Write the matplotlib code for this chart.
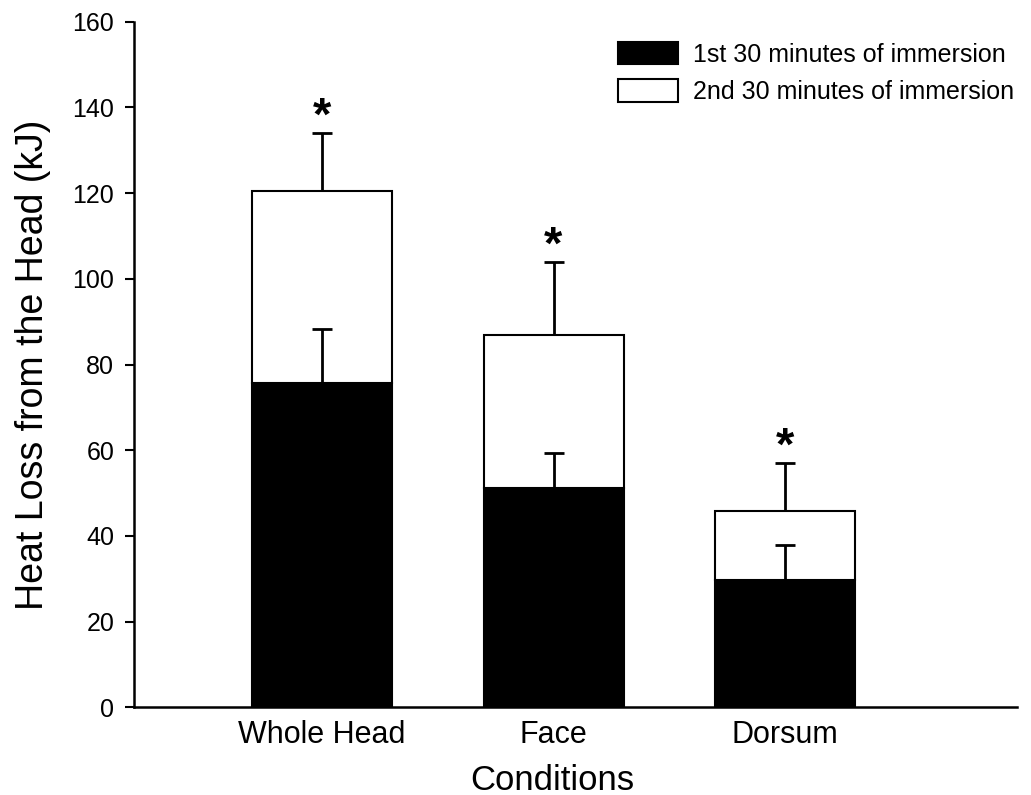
import matplotlib
matplotlib.use("Agg")
import matplotlib.pyplot as plt
import numpy as np

plt.rcParams['font.family'] = ['Liberation Sans', 'DejaVu Sans']

# data
conditions = ["Whole Head", "Face", "Dorsum"]
first_30 = [75.6, 51.1, 29.6]        # 1st 30 min (black part)
first_err = [12.8, 8.2, 8.3]
total = [120.5, 86.9, 45.9]           # cumulative after 2nd 30 min
total_err = [13.5, 17.1, 11.2]
second_30 = [t - f for t, f in zip(total, first_30)]

x = np.arange(len(conditions))
w = 0.605

fig = plt.figure(figsize=(10.31, 7.95), dpi=100)
ax = fig.add_axes([0.1303, 0.1103, 0.8561, 0.8624])

ax.bar(x, first_30, w, color="black", edgecolor="black", linewidth=1.5,
       label="1st 30 minutes of immersion", zorder=2)
ax.bar(x, second_30, w, bottom=first_30, color="white", edgecolor="black",
       linewidth=1.5, label="2nd 30 minutes of immersion", zorder=2)

# upward-only error bars (hide the lower caps)
for base, err in [(first_30, first_err), (total, total_err)]:
    eb = ax.errorbar(x, base, yerr=[np.zeros(3), err], fmt="none",
                     ecolor="black", elinewidth=2, capsize=7.5, capthick=2,
                     zorder=3)
    eb[1][0].set_visible(False)

# significance stars
for xi, t, e in zip(x, total, total_err):
    ax.text(xi, t + e + 3.5, "*", ha="center", va="center", fontsize=34,
            fontweight="bold")

ax.set_xlim(-0.811, 3.002)
ax.set_ylim(0, 160)
ax.set_yticks(range(0, 161, 20))
ax.set_xticks(x)
ax.set_xticklabels(conditions, fontsize=22)
ax.tick_params(axis="y", labelsize=18, length=6.5, width=1.5, pad=8)
ax.tick_params(axis="x", length=0, pad=9)

for s in ["top", "right"]:
    ax.spines[s].set_visible(False)
ax.spines["left"].set_linewidth(1.8)
ax.spines["bottom"].set_linewidth(1.8)

ax.set_ylabel("Heat Loss from the Head (kJ)", fontsize=27, labelpad=15)
ax.set_xlabel("Conditions", fontsize=25, labelpad=10)
ax.xaxis.label.set_x(0.474)

leg = ax.legend(loc="upper left", bbox_to_anchor=(618 / 1031, 1 - 42 / 795),
                bbox_transform=fig.transFigure, frameon=False, fontsize=18,
                handlelength=2.4, handleheight=1.0, handletextpad=0.6,
                labelspacing=0.5, borderpad=0, borderaxespad=0)

fig.savefig("out.png", dpi=100)
